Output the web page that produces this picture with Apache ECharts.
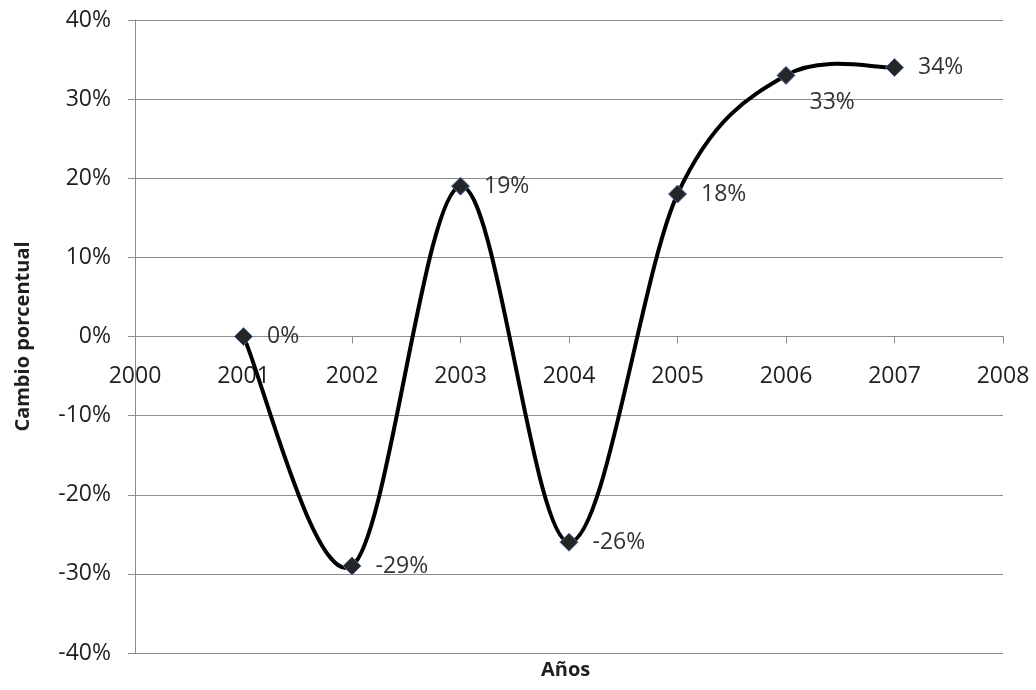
<!DOCTYPE html>
<html>
<head>
<meta charset="utf-8">
<script src="https://cdn.jsdelivr.net/npm/echarts@6/dist/echarts.min.js"></script>
<style>
  html, body { margin: 0; padding: 0; background: #fff; }
  #chart { width: 1036px; height: 690px; }
</style>
</head>
<body>
<div id="chart"></div>
<script>
// Cambio porcentual anual, 2001–2007
const years = [2001, 2002, 2003, 2004, 2005, 2006, 2007];
const cambio = [0, -29, 19, -26, 18, 33, 34];
const yTicks = { min: -40, max: 40, step: 10 };
const xTicks = { min: 2000, max: 2008, step: 1 };

const FONT = '"Open Sans", "Noto Sans", sans-serif';
const GRID_GRAY = '#8c8c8c';
const TEXT = '#1f1f1f';

const GRID = { left: 135, right: 33, top: 20, bottom: 37 };
const plotHeight = 690 - GRID.top - GRID.bottom;
// lift the year axis from the bottom edge up to the 0 % line
const zeroLift = plotHeight * (0 - yTicks.min) / (yTicks.max - yTicks.min);

const points = years.map((yr, i) => {
  const item = { value: [yr, cambio[i]] };
  if (yr === 2006) {
    item.label = { offset: [0, 27] };
  }
  return item;
});

// Catmull-Rom style smoothing through the data points (free to overshoot,
// like a spreadsheet "smoothed line"), built in pixel space from api.coord.
function renderCurve(params, api) {
  const p = years.map((yr, i) => api.coord([yr, cambio[i]]));
  const children = [];
  for (let i = 0; i < p.length - 1; i++) {
    const p0 = p[Math.max(i - 1, 0)];
    const p1 = p[i];
    const p2 = p[i + 1];
    const p3 = p[Math.min(i + 2, p.length - 1)];
    children.push({
      type: 'bezierCurve',
      shape: {
        x1: p1[0], y1: p1[1],
        x2: p2[0], y2: p2[1],
        cpx1: p1[0] + (p2[0] - p0[0]) / 6,
        cpy1: p1[1] + (p2[1] - p0[1]) / 6,
        cpx2: p2[0] - (p3[0] - p1[0]) / 6,
        cpy2: p2[1] - (p3[1] - p1[1]) / 6
      },
      style: { stroke: '#000000', lineWidth: 4, fill: null, lineCap: 'round', lineJoin: 'round' }
    });
  }
  return { type: 'group', children };
}

const chart = echarts.init(document.getElementById('chart'), null, { renderer: 'canvas' });
chart.setOption({
  animation: false,
  backgroundColor: '#ffffff',
  grid: Object.assign({ containLabel: false, outerBoundsMode: 'none' }, GRID),
  xAxis: {
    type: 'value',
    min: xTicks.min,
    max: xTicks.max,
    interval: xTicks.step,
    offset: -zeroLift,
    axisLine: { show: true, onZero: false, lineStyle: { color: GRID_GRAY, width: 1 } },
    axisTick: { show: true, length: 7, lineStyle: { color: GRID_GRAY } },
    splitLine: { show: false },
    axisLabel: {
      margin: 28,
      color: TEXT,
      fontFamily: FONT,
      fontSize: 23,
      formatter: v => String(v)
    }
  },
  yAxis: {
    type: 'value',
    min: yTicks.min,
    max: yTicks.max,
    interval: yTicks.step,
    name: 'Cambio porcentual',
    nameLocation: 'middle',
    nameRotate: 90,
    nameGap: 102,
    nameTextStyle: { fontFamily: FONT, fontSize: 20, fontWeight: 'bold', color: TEXT },
    axisLine: { show: true, lineStyle: { color: GRID_GRAY, width: 1 } },
    axisTick: { show: true, length: 7, lineStyle: { color: GRID_GRAY } },
    splitLine: { show: true, lineStyle: { color: GRID_GRAY, width: 1 } },
    axisLabel: {
      margin: 24,
      color: TEXT,
      fontFamily: FONT,
      fontSize: 23,
      formatter: '{value}%'
    }
  },
  graphic: [{
    type: 'text',
    left: 541,
    top: 660,
    style: { text: 'Años', font: 'bold 20px ' + FONT, fill: TEXT }
  }],
  series: [
    {
      type: 'custom',
      renderItem: renderCurve,
      data: [[years[0], cambio[0]]],
      silent: true,
      z: 3
    },
    {
      type: 'scatter',
      data: points,
      symbol: 'diamond',
      symbolSize: 18,
      itemStyle: { color: '#262626', borderColor: '#4a6f9f', borderWidth: 1, opacity: 1 },
      label: {
        show: true,
        position: 'right',
        distance: 14,
        color: '#333333',
        fontFamily: FONT,
        fontSize: 23,
        formatter: p => p.value[1] + '%'
      },
      z: 5
    }
  ]
});
</script>
</body>
</html>
